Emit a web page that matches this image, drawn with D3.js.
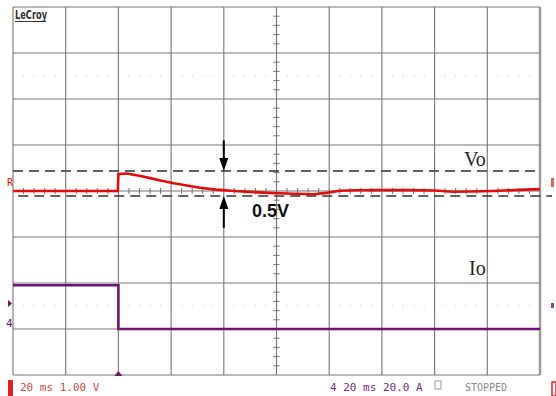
<!DOCTYPE html>
<html>
<head>
<meta charset="utf-8">
<script src="https://cdn.jsdelivr.net/npm/d3@7"></script>
<style>
  body { margin: 0; background: #fff; }
  svg { display: block; }
</style>
</head>
<body>
<div id="chart"></div>
<script>
// time in ms (trigger at 0), vertical in screen divisions (1.00 V/div for Vo)
const timeTicks = [-40, -20, 0, 20, 40, 60, 80, 100, 120, 140, 160]
const divTicks = [-4, -3, -2, -1, 0, 1, 2, 3, 4]

const voTime = [-40, -0.2, 0, 3, 8, 12, 16, 21, 26, 31, 37, 44, 50, 57, 64, 70, 74, 79, 84, 90, 99, 110, 120, 127, 134, 142, 150, 160]
const voDiv = [0, 0, 0.37, 0.38, 0.33, 0.28, 0.23, 0.17, 0.12, 0.07, 0.03, 0, -0.02, -0.04, -0.055, -0.065, -0.07, -0.04, 0.006, 0.015, 0.02, 0.02, 0.01, -0.015, -0.01, 0.0, 0.02, 0.04]

const ioTime = [-40, 0, 0, 160]
const ioDiv = [-2.05, -2.05, -3.0, -3.0]

const dashLevels = [0.435, -0.11]
const arrowTime = 40
const arrowFrom = [1.1, -0.8]

const width = 556
const height = 396

const x = d3.scaleLinear().domain([-40, 160]).range([13, 540])
const y = d3.scaleLinear().domain([-4, 4]).range([375, 7])

const svg = d3.select('#chart')
  .append('svg')
  .attr('width', width)
  .attr('height', height)

svg.append('rect')
  .attr('width', width)
  .attr('height', height)
  .attr('fill', '#fff')

// faint dotted rows
const minorX = d3.range(-40, 160, 4).filter(t => t % 20 !== 0)
;[2.5, -2.5].forEach(lv => {
  svg.append('g')
    .selectAll('circle')
    .data(minorX)
    .enter()
    .append('circle')
    .attr('cx', d => x(d))
    .attr('cy', y(lv))
    .attr('r', 0.8)
    .attr('fill', '#d6d6d6')
})

// grid
svg.append('g')
  .selectAll('line')
  .data(timeTicks)
  .enter()
  .append('line')
  .attr('x1', d => x(d))
  .attr('x2', d => x(d))
  .attr('y1', y(4))
  .attr('y2', y(-4))
  .attr('stroke', (d, i) => i === timeTicks.length - 1 ? '#9a9a9a' : '#747474')
  .attr('stroke-width', (d, i) => i === timeTicks.length - 1 ? 2.5 : 1.1)

svg.append('g')
  .selectAll('line')
  .data(divTicks)
  .enter()
  .append('line')
  .attr('x1', x(-40))
  .attr('x2', x(160))
  .attr('y1', d => y(d))
  .attr('y2', d => y(d))
  .attr('stroke', '#747474')
  .attr('stroke-width', 1.1)

// centre cross minor ticks
const hMinor = d3.range(-40, 160.1, 4).filter(t => t % 20 !== 0)
svg.append('g')
  .selectAll('line')
  .data(hMinor)
  .enter()
  .append('line')
  .attr('x1', d => x(d))
  .attr('x2', d => x(d))
  .attr('y1', y(0) - 3)
  .attr('y2', y(0) + 3)
  .attr('stroke', '#747474')
  .attr('stroke-width', 1)

const vMinor = d3.range(-4, 4.01, 0.2).filter(v => Math.abs(v - Math.round(v)) > 0.01)
svg.append('g')
  .selectAll('line')
  .data(vMinor)
  .enter()
  .append('line')
  .attr('x1', x(60) - 3)
  .attr('x2', x(60) + 3)
  .attr('y1', d => y(d))
  .attr('y2', d => y(d))
  .attr('stroke', '#747474')
  .attr('stroke-width', 1)

// logo
svg.append('text')
  .attr('x', 15)
  .attr('y', 19)
  .attr('font-family', 'Liberation Sans Narrow, DejaVu Sans Condensed, sans-serif')
  .attr('font-size', 12)
  .attr('font-weight', 'bold')
  .attr('fill', '#333')
  .attr('textLength', 32)
  .attr('lengthAdjust', 'spacingAndGlyphs')
  .text('LeCroy')
svg.append('line')
  .attr('x1', 15).attr('x2', 46)
  .attr('y1', 21.5).attr('y2', 21.5)
  .attr('stroke', '#333')
  .attr('stroke-width', 1)

// dashed reference levels
svg.append('line')
  .attr('x1', x(-40)).attr('x2', x(160))
  .attr('y1', y(dashLevels[0])).attr('y2', y(dashLevels[0]))
  .attr('stroke', '#333').attr('stroke-width', 1.6)
  .attr('stroke-dasharray', '10,6')
svg.append('line')
  .attr('x1', x(-38)).attr('x2', 552)
  .attr('y1', y(dashLevels[1])).attr('y2', y(dashLevels[1]))
  .attr('stroke', '#333').attr('stroke-width', 1.6)
  .attr('stroke-dasharray', '10,6')

// traces
const traceLine = d3.line()
  .x(d => x(d[0]))
  .y(d => y(d[1]))

svg.append('path')
  .datum(ioTime.map((t, i) => [t, ioDiv[i]]))
  .attr('d', traceLine)
  .attr('fill', 'none')
  .attr('stroke', '#6e1470')
  .attr('stroke-width', 2.6)

svg.append('path')
  .datum(voTime.map((t, i) => [t, voDiv[i]]))
  .attr('d', traceLine)
  .attr('fill', 'none')
  .attr('stroke', '#e30b0b')
  .attr('stroke-width', 2.6)

// arrows
const ax = x(arrowTime)
arrowFrom.forEach((from, i) => {
  const y0 = y(from)
  const y1 = y(dashLevels[i])
  const dir = y1 > y0 ? 1 : -1
  svg.append('line')
    .attr('x1', ax).attr('x2', ax)
    .attr('y1', y0).attr('y2', y1 - dir * 10)
    .attr('stroke', '#000').attr('stroke-width', 2)
  svg.append('path')
    .attr('d', `M${ax - 4.5},${y1 - dir * 13} L${ax + 4.5},${y1 - dir * 13} L${ax},${y1} Z`)
    .attr('fill', '#000')
})

svg.append('text')
  .attr('x', 252)
  .attr('y', 217)
  .attr('font-family', 'Liberation Sans, Arial, sans-serif')
  .attr('font-size', 18)
  .attr('font-weight', 'bold')
  .attr('fill', '#111')
  .text('0.5V')

svg.append('text')
  .attr('x', 464)
  .attr('y', 166)
  .attr('font-family', 'Liberation Serif, Times New Roman, serif')
  .attr('font-size', 20)
  .attr('fill', '#222')
  .text('Vo')

svg.append('text')
  .attr('x', 469)
  .attr('y', 275)
  .attr('font-family', 'Liberation Serif, Times New Roman, serif')
  .attr('font-size', 20)
  .attr('fill', '#222')
  .text('Io')

// channel markers
svg.append('text')
  .attr('x', 7).attr('y', 186)
  .attr('font-family', 'DejaVu Sans Mono, monospace')
  .attr('font-size', 10)
  .attr('fill', '#e30b0b')
  .text('R')
svg.append('path')
  .attr('d', 'M8,300 L12,303.5 L8,307 Z')
  .attr('fill', '#6e1470')
svg.append('text')
  .attr('x', 6).attr('y', 327)
  .attr('font-family', 'DejaVu Sans Mono, monospace')
  .attr('font-size', 11)
  .attr('fill', '#6e1470')
  .text('4')
svg.append('rect')
  .attr('x', 551).attr('y', 178).attr('width', 3).attr('height', 9)
  .attr('fill', '#e86060')
svg.append('rect')
  .attr('x', 551).attr('y', 303).attr('width', 3).attr('height', 5)
  .attr('fill', '#8a4a8a')
svg.append('path')
  .attr('d', `M${x(0) - 4},${y(-4) + 1} L${x(0) + 4},${y(-4) + 1} L${x(0)},${y(-4) - 4} Z`)
  .attr('fill', '#6e1470')

// status line
svg.append('rect')
  .attr('x', 8).attr('y', 380).attr('width', 5).attr('height', 16)
  .attr('fill', '#e02020')
svg.append('text')
  .attr('x', 20).attr('y', 391)
  .attr('font-family', 'DejaVu Sans Mono, monospace')
  .attr('font-size', 11)
  .attr('fill', '#cf4a4a')
  .text('20 ms 1.00 V')

svg.append('text')
  .attr('x', 330).attr('y', 391)
  .attr('font-family', 'DejaVu Sans Mono, monospace')
  .attr('font-size', 11)
  .attr('fill', '#7a2a7a')
  .text('4 20 ms 20.0 A')
svg.append('rect')
  .attr('x', 435).attr('y', 381).attr('width', 6).attr('height', 8)
  .attr('fill', 'none').attr('stroke', '#999').attr('stroke-width', 1)
svg.append('text')
  .attr('x', 465).attr('y', 391)
  .attr('font-family', 'DejaVu Sans Mono, monospace')
  .attr('font-size', 10)
  .attr('fill', '#8a8a8a')
  .text('STOPPED')
svg.append('rect')
  .attr('x', 552).attr('y', 382).attr('width', 4).attr('height', 14)
  .attr('fill', 'none').attr('stroke', '#e02020').attr('stroke-width', 1.5)
</script>
</body>
</html>
